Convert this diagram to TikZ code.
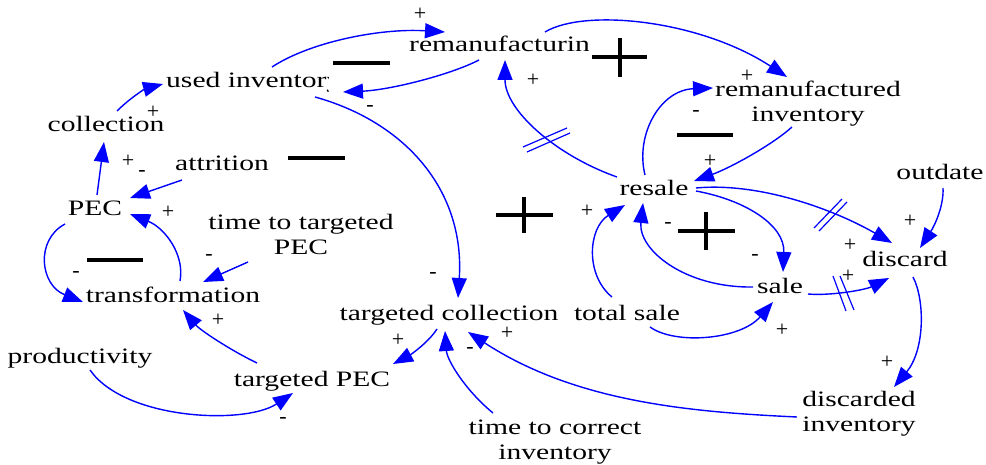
\documentclass[tikz,border=0pt]{standalone}
\usepackage{fontspec}
\setmainfont{Liberation Serif}[FakeStretch=1.345]
\newfontfamily\signfont{Liberation Serif}
\usetikzlibrary{arrows.meta,calc}
\definecolor{vblue}{RGB}{0,0,255}
\tikzset{
  var/.style={inner sep=0pt, font=\fontsize{22}{25}\selectfont, text=black},
  mvar/.style={var, align=center, anchor=north},
  sign/.style={inner sep=0pt, font=\signfont\fontsize{22}{24}\selectfont, text=black},
  link/.style={draw=vblue, line width=1.4pt, -{Triangle[length=20pt,width=15pt]}},
  hashmark/.style={draw=vblue, line width=1.2pt},
  loopmark/.style={draw=black, line width=4pt},
}
\begin{document}
\begin{tikzpicture}[x=1pt,y=-1pt]
\useasboundingbox (0,0) rectangle (986,465);

% variables
\begin{scope}
  \clip (400,20) rectangle (588,70);
  \node[var, anchor=base west] (reman) at (409,52) {remanufacturing};
\end{scope}
\begin{scope}
  \clip (160,60) rectangle (328,100);
  \node[var, anchor=base west] (used) at (166,88) {used inventory};
\end{scope}
\node[var, anchor=base] (coll) at (106,132) {collection};
\node[mvar] (reinv) at (808,81) {remanufactured\\inventory};
\node[var, anchor=base] (attr) at (222,171) {attrition};
\node[var, anchor=base] (pec) at (95,216) {PEC};
\node[mvar] (ttpec) at (301,214) {time to targeted\\PEC};
\node[var, anchor=base] (trans) at (173,302) {transformation};
\node[var, anchor=base] (prod) at (80,363) {productivity};
\node[var, anchor=base] (tpec) at (312,386) {targeted PEC};
\node[var, anchor=base] (tcoll) at (449,320) {targeted collection};
\node[var, anchor=base] (tsale) at (627,320) {total sale};
\node[mvar] (tcinv) at (555,420) {time to correct\\inventory};
\node[var, anchor=base] (resale) at (654,196) {resale};
\node[var, anchor=base] (sale) at (780,294) {sale};
\node[var, anchor=base] (discard) at (905,267) {discard};
\node[var, anchor=base] (outdate) at (940,180) {outdate};
\node[mvar] (dinv) at (859,391) {discarded\\inventory};

% connectors
\draw[link] ([shift={(106,-21)}]used.base west) .. controls (310,42) and (380,28) .. ([shift={(36,-20)}]reman.base west);
\draw[link] ([shift={(70,8)}]reman.base west) .. controls (450,75) and (390,90) .. ([shift={(177,4)}]used.base west);
\draw[link] ([shift={(149,9)}]used.base west) .. controls (405,122) and (465,190) .. ([shift={(9,-22)}]tcoll.base);
\draw[link] ([shift={(136,-20)}]reman.base west) .. controls (585,8) and (700,20) .. ([shift={(-21,-4)}]reinv.north);
\draw[link] ([shift={(-37,-19)}]resale.base) .. controls (555,155) and (505,110) .. ([shift={(96,8)}]reman.base west);
\draw[link] ([shift={(-9,-21)}]resale.base) .. controls (635,135) and (660,90) .. ([shift={(-95,7)}]reinv.north);
\draw[link] ([shift={(-16,46)}]reinv.north) .. controls (772,145) and (730,168) .. ([shift={(40,-15)}]resale.base);
\draw[link] ([shift={(42,-8)}]resale.base) .. controls (760,182) and (835,210) .. ([shift={(-13,-24)}]discard.base);
\draw[link] ([shift={(42,-5)}]resale.base) .. controls (745,200) and (785,225) .. ([shift={(3,-22)}]sale.base);
\draw[link] ([shift={(-27,-7)}]sale.base) .. controls (685,288) and (638,250) .. ([shift={(-11,7)}]resale.base);
\draw[link] ([shift={(28,0)}]sale.base) .. controls (830,296) and (865,290) .. ([shift={(-16,11)}]discard.base);
\draw[link] ([shift={(3,8)}]outdate.base) .. controls (944,205) and (935,225) .. ([shift={(15,-19)}]discard.base);
\draw[link] ([shift={(8,10)}]discard.base) .. controls (925,300) and (925,350) .. ([shift={(35,-4)}]dinv.north);
\draw[link] ([shift={(-62,26)}]dinv.north) .. controls (690,412) and (575,402) .. ([shift={(19,12)}]tcoll.base);
\draw[link] ([shift={(-62,-7)}]tcinv.north) .. controls (465,390) and (447,360) .. ([shift={(-4,11)}]tcoll.base);
\draw[link] ([shift={(-12,9)}]tcoll.base) .. controls (428,343) and (410,355) .. ([shift={(81,-22)}]tpec.base);
\draw[link] ([shift={(-55,-23)}]tpec.base) .. controls (230,350) and (200,330) .. ([shift={(10,8)}]trans.base);
\draw[link] ([shift={(10,7)}]prod.base) .. controls (125,420) and (245,425) .. ([shift={(-19,7)}]tpec.base);
\draw[link] ([shift={(-53,48)}]ttpec.north) -- ([shift={(30,-20)}]trans.base);
\draw[link] ([shift={(-30,8)}]pec.base) .. controls (35,240) and (40,285) .. ([shift={(-90,0)}]trans.base);
\draw[link] ([shift={(7,-21)}]trans.base) .. controls (185,255) and (165,228) .. ([shift={(35,-2)}]pec.base);
\draw[link] ([shift={(-40,9)}]attr.base) -- ([shift={(35,-18)}]pec.base);
\draw[link] ([shift={(2,-21)}]pec.base) -- ([shift={(-2,10)}]coll.base);
\draw[link] ([shift={(11,-21)}]coll.base) .. controls (130,98) and (145,89) .. ([shift={(-3,-4)}]used.base west);
\draw[link] ([shift={(-15,-23)}]tsale.base) .. controls (585,275) and (588,228) .. ([shift={(-29,9)}]resale.base);
\draw[link] ([shift={(23,7)}]tsale.base) .. controls (675,345) and (740,340) .. ([shift={(-7,8)}]sale.base);

% delay marks
\draw[hashmark] (523,147) -- (567,128) (527,152) -- (570,133);
\draw[hashmark] (814,228) -- (842,199) (819,231) -- (847,202);
\draw[hashmark] (833,276) -- (846,311) (840,276) -- (854,310);

% polarity signs
\node[sign] (p1) at (420,14) {+};
\node[sign] (p2) at (370,108) {-};
\node[sign] (p3) at (533,80) {+};
\node[sign] (p4) at (153,112) {+};
\node[sign] (p5) at (747,76) {+};
\node[sign] (p6) at (696,113) {-};
\node[sign] (p7) at (710,161) {+};
\node[sign] (p8) at (128,161) {+};
\node[sign] (p9) at (142,173) {-};
\node[sign] (p10) at (168,212) {+};
\node[sign] (p11) at (76,274) {-};
\node[sign] (p12) at (209,257) {-};
\node[sign] (p13) at (433,275) {-};
\node[sign] (p14) at (587,211) {+};
\node[sign] (p15) at (668,225) {-};
\node[sign] (p16) at (755,257) {-};
\node[sign] (p17) at (910,221) {+};
\node[sign] (p18) at (850,245) {+};
\node[sign] (p19) at (848,276) {+};
\node[sign] (p20) at (782,330) {+};
\node[sign] (p21) at (887,362) {+};
\node[sign] (p22) at (218,320) {+};
\node[sign] (p23) at (283,420) {-};
\node[sign] (p24) at (398,340) {+};
\node[sign] (p25) at (470,350) {-};
\node[sign] (p26) at (507,333) {+};

% loop markers
\draw[loopmark] (333,63) -- (390,63);
\draw[loopmark] (592,57) -- (647,57) (620,38) -- (620,77);
\draw[loopmark] (677,135) -- (733,135);
\draw[loopmark] (288,158) -- (345,158);
\draw[loopmark] (87,260) -- (143,260);
\draw[loopmark] (496,215) -- (553,215) (524,197) -- (524,233);
\draw[loopmark] (678,231) -- (735,231) (706,212) -- (706,250);
\end{tikzpicture}
\end{document}
